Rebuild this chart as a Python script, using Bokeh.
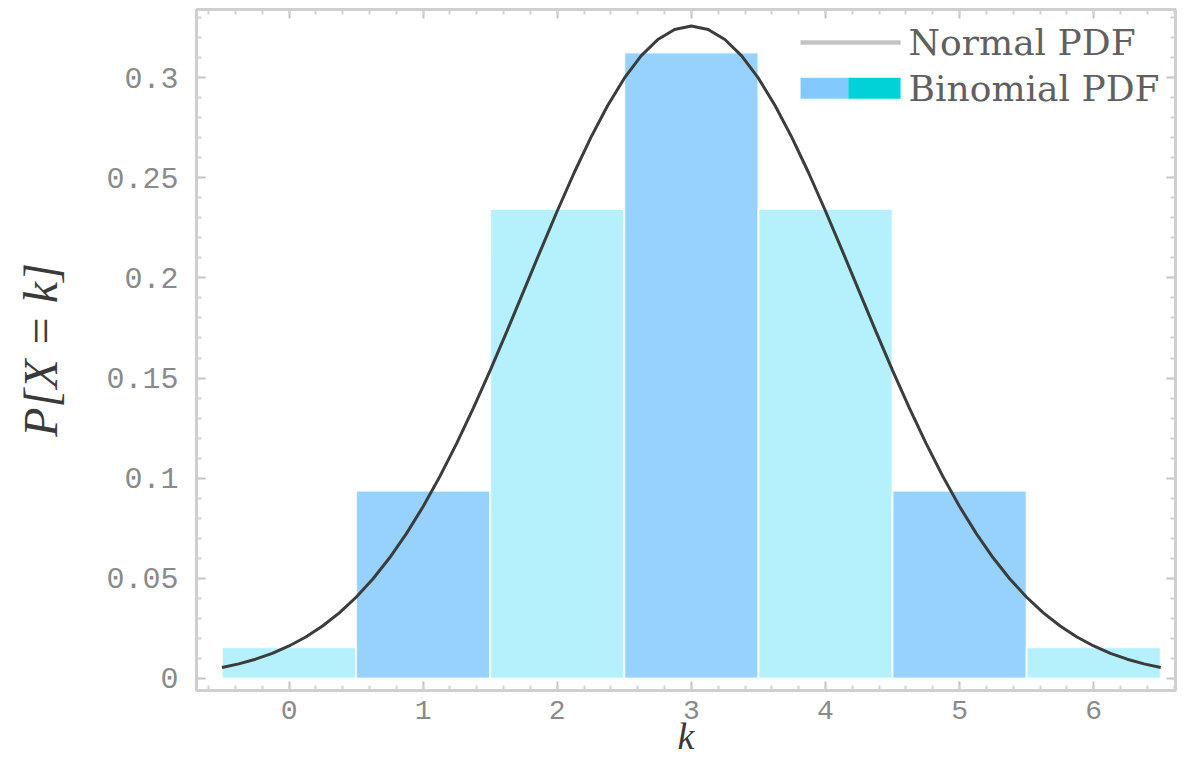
from bokeh.plotting import figure
from bokeh.models import (FixedTicker, LinearAxis, CustomJSTickFormatter, Range1d,
                          BoxAnnotation, Label)
from bokeh.embed import file_html
from bokeh.resources import INLINE

# ---- data ----
k_values = [0, 1, 2, 3, 4, 5, 6]
binom_pmf = [0.015625, 0.09375, 0.234375, 0.3125, 0.234375, 0.09375, 0.015625]
bar_colors = ["#b5f0fd", "#97d2fd", "#b5f0fd", "#97d2fd", "#b5f0fd", "#97d2fd", "#b5f0fd"]

curve_x = [-0.5, -0.375, -0.25, -0.125, 0.0, 0.125, 0.25, 0.375, 0.5, 0.625, 0.75, 0.875,
           1.0, 1.125, 1.25, 1.375, 1.5, 1.625, 1.75, 1.875, 2.0, 2.125, 2.25, 2.375,
           2.5, 2.625, 2.75, 2.875, 3.0, 3.125, 3.25, 3.375, 3.5, 3.625, 3.75, 3.875,
           4.0, 4.125, 4.25, 4.375, 4.5, 4.625, 4.75, 4.875, 5.0, 5.125, 5.25, 5.375,
           5.5, 5.625, 5.75, 5.875, 6.0, 6.125, 6.25, 6.375, 6.5]
curve_y = [0.00549, 0.00731, 0.00963, 0.01256, 0.01622, 0.02072, 0.02619, 0.03276,
           0.04056, 0.04969, 0.06026, 0.07231, 0.08586, 0.10091, 0.11736, 0.13508,
           0.15387, 0.17345, 0.19350, 0.21363, 0.23340, 0.25237, 0.27005, 0.28597,
           0.29970, 0.31082, 0.31902, 0.32405, 0.32574, 0.32405, 0.31902, 0.31082,
           0.29970, 0.28597, 0.27005, 0.25237, 0.23340, 0.21363, 0.19350, 0.17345,
           0.15387, 0.13508, 0.11736, 0.10091, 0.08586, 0.07231, 0.06026, 0.04969,
           0.04056, 0.03276, 0.02619, 0.02072, 0.01622, 0.01256, 0.00963, 0.00731,
           0.00549]

x_ticks = [0, 1, 2, 3, 4, 5, 6]
x_minor = [round(-0.6 + 0.2 * i, 2) for i in range(37)]
y_ticks = [0, 0.05, 0.1, 0.15, 0.2, 0.25, 0.3]
y_minor = [round(0.01 * i, 2) for i in range(34)]

legend_labels = ["Normal PDF", "Binomial PDF"]
x_title = "k"
y_title = "P[X = k]"

# ---- figure ----
p = figure(width=1177, height=762, output_backend="svg", toolbar_location=None,
           x_range=Range1d(-0.69, 6.61), y_range=Range1d(-0.006, 0.334),
           min_border_left=196, min_border_right=2, min_border_top=9, min_border_bottom=72,
           background_fill_color="white", border_fill_color="white")
p.grid.visible = False
p.outline_line_color = "#cfcfcf"
p.outline_line_width = 3

left = [k - 0.5 for k in k_values]
right = [k + 0.5 for k in k_values]
p.quad(left=left, right=right, bottom=0, top=binom_pmf, fill_color=bar_colors,
       line_color="white", line_width=2, line_alpha=0.8)

p.line(curve_x, curve_y, line_color="#3c3c3c", line_width=3)

fmt_y = CustomJSTickFormatter(code="return String(Math.round(tick*100)/100);")
fmt_none = CustomJSTickFormatter(code="return '';")

def style_axis(ax, ticks, minor, show_labels, size="30px"):
    ax.ticker = FixedTicker(ticks=ticks, minor_ticks=minor)
    ax.axis_line_color = None
    ax.major_tick_in = 9
    ax.major_tick_out = 0
    ax.minor_tick_in = 5
    ax.minor_tick_out = 0
    ax.major_tick_line_color = "#c4c4c4"
    ax.minor_tick_line_color = "#d2d2d2"
    ax.major_tick_line_width = 2
    ax.minor_tick_line_width = 2
    if show_labels:
        ax.major_label_text_font = "Liberation Mono"
        ax.major_label_text_font_size = size
        ax.major_label_text_color = "#8a8a8a"
    else:
        ax.formatter = fmt_none
        ax.major_label_standoff = 0

xa = p.xaxis[0]
style_axis(xa, x_ticks, x_minor, True, "28px")
xa.major_label_standoff = 10
xa.axis_label = x_title
xa.axis_label_text_font = "Liberation Serif"
xa.axis_label_text_font_style = "italic"
xa.axis_label_text_font_size = "38px"
xa.axis_label_text_color = "#3a3a3a"
xa.axis_label_standoff = -7

ya = p.yaxis[0]
style_axis(ya, y_ticks, y_minor, True, "30px")
ya.formatter = fmt_y
ya.major_label_standoff = 18
ya.axis_label = y_title
ya.axis_label_text_font = "Liberation Serif"
ya.axis_label_text_font_style = "italic"
ya.axis_label_text_font_size = "48px"
ya.axis_label_text_color = "#3a3a3a"
ya.axis_label_standoff = 36

top_ax = LinearAxis()
style_axis(top_ax, x_ticks, x_minor, False)
p.add_layout(top_ax, "above")
right_ax = LinearAxis()
style_axis(right_ax, y_ticks, y_minor, False)
p.add_layout(right_ax, "right")

# ---- legend (drawn manually to get the two-tone swatch) ----
p.add_layout(BoxAnnotation(left=3.814, right=4.56, bottom=0.3164, top=0.3186,
                           fill_color="#c4c4c4", fill_alpha=1, line_color=None))
p.add_layout(BoxAnnotation(left=3.814, right=4.17, bottom=0.2894, top=0.2999,
                           fill_color="#82c9fe", fill_alpha=1, line_color=None))
p.add_layout(BoxAnnotation(left=4.17, right=4.56, bottom=0.2894, top=0.2999,
                           fill_color="#00d2d8", fill_alpha=1, line_color=None))
for txt, yy in zip(legend_labels, [0.3175, 0.2947]):
    p.add_layout(Label(x=4.62, y=yy, text=txt, text_font="DejaVu Serif",
                       text_font_size="36px", text_color="#606060",
                       text_baseline="middle", text_align="left"))

open("out.html", "w").write(file_html(p, INLINE))
